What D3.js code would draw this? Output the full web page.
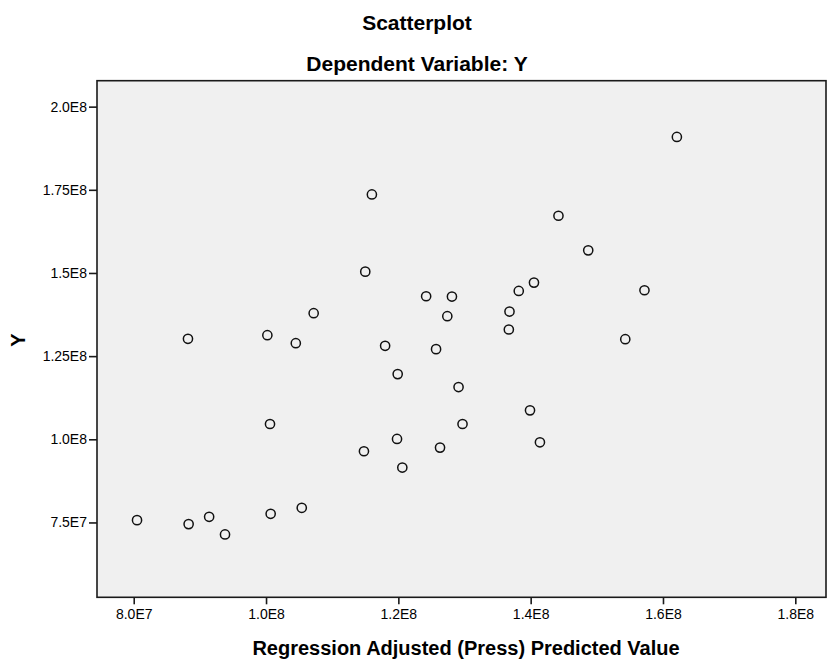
<!DOCTYPE html>
<head>
<meta charset="utf-8">
</head>
<style>
body { margin: 0; background: #fff; }
text { font-family: Arial, "Liberation Sans", sans-serif; fill: #000; }
.title { font-size: 21px; font-weight: bold; }
.axis-title { font-size: 20px; font-weight: bold; }
</style>
<body>
<svg id="chart" width="827" height="659"></svg>

<script src="https://d3js.org/d3.v7.min.js"></script>
<script>

// predicted values (x) and observed Y, in raw units
var predicted = [8.05e7, 8.83e7, 9.14e7, 9.38e7, 1.007e8, 1.054e8,
                 8.82e7, 1.002e8, 1.045e8, 1.072e8, 1.006e8,
                 1.160e8, 1.150e8, 1.180e8, 1.199e8, 1.242e8, 1.281e8, 1.274e8,
                 1.257e8, 1.291e8, 1.297e8, 1.263e8, 1.198e8, 1.148e8, 1.206e8,
                 1.368e8, 1.367e8, 1.382e8, 1.405e8, 1.399e8, 1.414e8,
                 1.442e8, 1.487e8, 1.572e8, 1.543e8, 1.621e8];
var observed  = [7.57e7, 7.45e7, 7.67e7, 7.14e7, 7.76e7, 7.94e7,
                 1.302e8, 1.313e8, 1.289e8, 1.379e8, 1.046e8,
                 1.736e8, 1.504e8, 1.281e8, 1.196e8, 1.430e8, 1.429e8, 1.370e8,
                 1.271e8, 1.157e8, 1.046e8, 0.975e8, 1.001e8, 0.964e8, 0.915e8,
                 1.384e8, 1.330e8, 1.446e8, 1.471e8, 1.087e8, 0.991e8,
                 1.672e8, 1.568e8, 1.448e8, 1.301e8, 1.909e8];

var xTicks = [8e7, 1.0e8, 1.2e8, 1.4e8, 1.6e8, 1.8e8];
var yTicks = [7.5e7, 1.0e8, 1.25e8, 1.5e8, 1.75e8, 2.0e8];

var svg = d3.select("#chart");
var plotLeft = 97, plotRight = 826, plotTop = 80.7, plotBottom = 597.3;

var x = d3.scaleLinear().domain([7.445e7, 1.8464e8]).range([plotLeft, plotRight]),
    y = d3.scaleLinear().domain([5.25e7, 2.078e8]).range([plotBottom, plotTop]);

// SPSS style scientific labels: 8.0E7, 1.75E8
function sci(v) {
  var e = Math.floor(Math.log10(v));
  var m = +(v / Math.pow(10, e)).toFixed(2);
  var s = String(m);
  if (s.indexOf(".") < 0) s += ".0";
  return s + "E" + e;
}

svg.append("rect")
    .attr("x", plotLeft).attr("y", plotTop)
    .attr("width", plotRight - plotLeft).attr("height", plotBottom - plotTop)
    .attr("fill", "#f0f0f0")
    .attr("stroke", "#1a1a1a")
    .attr("stroke-width", 1.6);

var xAxis = svg.append("g")
    .attr("transform", "translate(0," + plotBottom + ")")
    .call(d3.axisBottom(x).tickValues(xTicks).tickFormat(sci).tickSize(7).tickPadding(5));
var yAxis = svg.append("g")
    .attr("transform", "translate(" + plotLeft + ",0)")
    .call(d3.axisLeft(y).tickValues(yTicks).tickFormat(sci).tickSize(8).tickPadding(2));

[xAxis, yAxis].forEach(function(a) {
  a.attr("font-size", 14).attr("font-family", null);
  a.select(".domain").remove();
  a.selectAll(".tick line").attr("stroke", "#1a1a1a").attr("stroke-width", 1.6);
  a.selectAll(".tick text").attr("fill", "#000");
});
xAxis.selectAll(".tick text").attr("dy", "0.71em");

//data points
svg.selectAll(".pt")
  .data(predicted)
  .enter().append("circle")
    .attr("class", "pt")
    .attr("cx", function(d) { return x(d); })
    .attr("cy", function(d, i) { return y(observed[i]); })
    .attr("r", 4.6)
    .attr("fill", "none")
    .attr("stroke", "#111")
    .attr("stroke-width", 1.5);

svg.append("text").attr("class", "title")
    .attr("x", 417).attr("y", 30).attr("text-anchor", "middle")
    .text("Scatterplot");
svg.append("text").attr("class", "title")
    .attr("x", 417).attr("y", 71).attr("text-anchor", "middle")
    .text("Dependent Variable: Y");

svg.append("text").attr("class", "axis-title")
    .attr("x", 466).attr("y", 655).attr("text-anchor", "middle")
    .text("Regression Adjusted (Press) Predicted Value");
svg.append("text").attr("class", "axis-title")
    .attr("transform", "translate(25,340) rotate(-90)")
    .attr("text-anchor", "middle")
    .text("Y");

</script>
</body>
